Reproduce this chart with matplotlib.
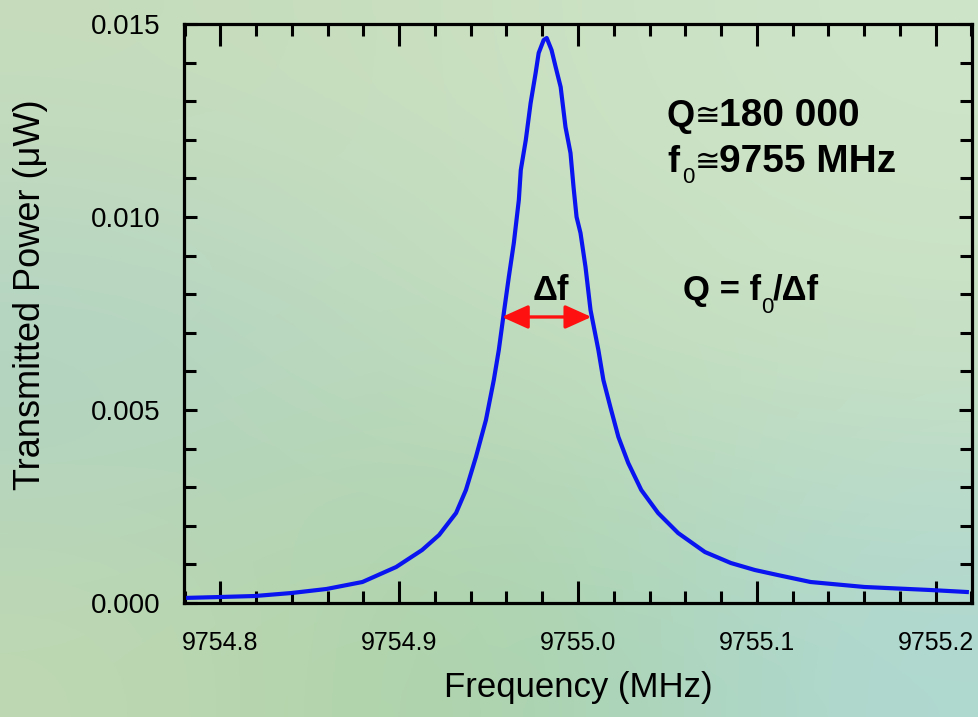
import matplotlib
matplotlib.use("Agg")
import matplotlib.pyplot as plt
import numpy as np

plt.rcParams['font.family'] = ['Liberation Sans', 'DejaVu Sans']

# transmitted power
freq_mhz = [9754.7791, 9754.7997, 9754.8192, 9754.8398, 9754.8593, 9754.8794,
            9754.8983, 9754.9128, 9754.9223, 9754.9318, 9754.9373, 9754.9429,
            9754.9485, 9754.9529, 9754.9557, 9754.9585, 9754.9613, 9754.9641,
            9754.9669, 9754.9680, 9754.9708, 9754.9735, 9754.9763, 9754.9780,
            9754.9808, 9754.9825, 9754.9852, 9754.9875, 9754.9903, 9754.9930,
            9754.9958, 9754.9975, 9754.9992, 9755.0014, 9755.0042, 9755.0070,
            9755.0114, 9755.0142, 9755.0181, 9755.0226, 9755.0281, 9755.0354,
            9755.0448, 9755.0560, 9755.0710, 9755.0855, 9755.0989, 9755.1117,
            9755.1301, 9755.1602, 9755.1969, 9755.2175]
power_uw = [0.000130, 0.000155, 0.000181, 0.000259, 0.000363, 0.000544,
            0.000933, 0.001373, 0.001762, 0.002332, 0.002927, 0.003782,
            0.004741, 0.005777, 0.006554, 0.007513, 0.008446, 0.009326,
            0.010440, 0.011218, 0.011995, 0.012953, 0.013731, 0.014249,
            0.014585, 0.014637, 0.014326, 0.013886, 0.013368, 0.012332,
            0.011658, 0.010777, 0.010000, 0.009585, 0.008705, 0.007591,
            0.006554, 0.005777, 0.005078, 0.004301, 0.003627, 0.002927,
            0.002332, 0.001813, 0.001321, 0.001036, 0.000855, 0.000725,
            0.000544, 0.000415, 0.000337, 0.000285]

# half-width marker
arrow_y = 0.00741
arrow_left = 9754.9574
arrow_right = 9755.0075

xticks = [9754.8, 9754.9, 9755.0, 9755.1, 9755.2]
yticks = [0.000, 0.005, 0.010, 0.015]

W, H = 979, 717
fig = plt.figure(figsize=(W / 100, H / 100), dpi=100)

# soft green/blue backdrop
bg = fig.add_axes([0, 0, 1, 1], zorder=-5)
corners = np.array([
    [[198, 220, 188], [202, 224, 192], [207, 229, 202]],
    [[174, 210, 198], [192, 220, 188], [200, 224, 194]],
    [[190, 216, 178], [168, 209, 165], [175, 216, 210]],
]) / 255.0
bg.imshow(corners, extent=[0, 1, 0, 1], aspect='auto', interpolation='bicubic')
bg.axis('off')

ax = fig.add_axes([184 / W, 1 - 603 / H, (972 - 184) / W, (603 - 24) / H])
ax.set_facecolor('none')

ax.plot(freq_mhz, power_uw, color='#0a14f0', lw=3.0, solid_joinstyle='round')

ax.annotate('', xy=(arrow_right, arrow_y), xytext=(arrow_left, arrow_y),
            arrowprops=dict(arrowstyle='<|-|>,head_length=0.8,head_width=0.36',
                            color='#ff1010', lw=2.4, mutation_scale=20,
                            shrinkA=0, shrinkB=0))

ax.set_xlim(9754.7796, 9755.2204)
ax.set_ylim(0, 0.015)
ax.set_xticks(xticks)
ax.set_xticklabels(['%.1f' % t for t in xticks])
ax.set_yticks(yticks)
ax.set_yticklabels(['%.3f' % t for t in yticks])
ax.set_xticks(np.arange(9754.78, 9755.221, 0.02), minor=True)
ax.set_yticks(np.arange(0, 0.0151, 0.001), minor=True)

ax.tick_params(axis='x', which='major', direction='in', length=16, width=2.2,
               top=True, labelsize=18, pad=20)
ax.tick_params(axis='x', which='minor', direction='in', length=8.6, width=2.2, top=True)
ax.tick_params(axis='y', which='major', direction='in', length=9.5, width=2.2,
               right=True, labelsize=20, pad=17)
ax.tick_params(axis='y', which='minor', direction='in', length=8.6, width=2.2, right=True)
for s in ax.spines.values():
    s.set_linewidth(2.3)

ax.set_xlabel('Frequency (MHz)', fontsize=25, labelpad=12)
ax.set_ylabel('Transmitted Power (μW)', fontsize=26)
ax.yaxis.set_label_coords((48 - 184) / 788, 0.532)


def put(x, y, s, size=26, weight='bold'):
    fig.text(x / W, 1 - y / H, s, fontsize=size, fontweight=weight, va='baseline')


put(667, 126, 'Q')
put(695, 125, '≅', size=22, weight='normal')
put(719, 126, '180 000', size=28)
put(667, 172, 'f')
put(682, 183, '0', size=16, weight='normal')
put(695, 171, '≅', size=22, weight='normal')
put(719, 172, '9755 MHz', size=28)

put(683, 300, 'Q = f', size=25)
put(761, 313, '0', size=16, weight='normal')
put(773, 300, '/Δf', size=25)
put(533, 300, 'Δf', size=25)

fig.savefig('out.png', dpi=100)
